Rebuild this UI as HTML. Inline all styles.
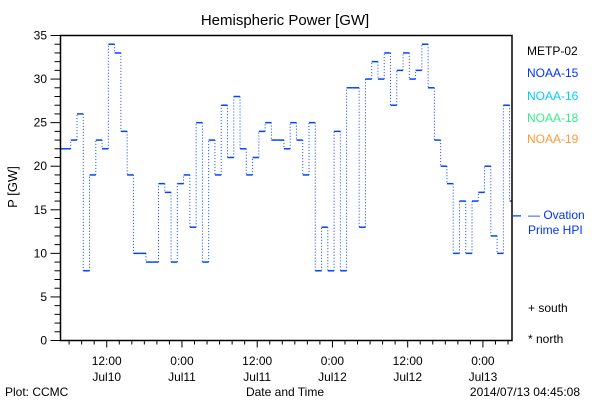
<!DOCTYPE html>
<html><head><meta charset="utf-8"><style>
body{margin:0;background:#fff}
svg{display:block;font-family:"Liberation Sans",sans-serif}
</style></head><body>
<svg id="c" width="600" height="400" viewBox="0 0 600 400">
<rect width="600" height="400" fill="#fff"/>
<text x="285" y="25" font-size="15" text-anchor="middle">Hemispheric Power [GW]</text>
<text x="17" y="187" font-size="13" text-anchor="middle" transform="rotate(-90 17 187)">P [GW]</text>
<text x="285" y="396" font-size="12" text-anchor="middle">Date and Time</text>
<text x="5" y="396" font-size="12">Plot: CCMC</text>
<text x="580" y="396" font-size="12" text-anchor="end">2014/07/13 04:45:08</text>
<g font-size="12">
<text x="527" y="55" fill="#000">METP-02</text>
<text x="527" y="77" fill="#0033ff">NOAA-15</text>
<text x="527" y="100" fill="#00ccff">NOAA-16</text>
<text x="527" y="122" fill="#33ee88">NOAA-18</text>
<text x="527" y="143" fill="#ff9933">NOAA-19</text>
<text x="528" y="219" fill="#0033ff">— Ovation</text>
<text x="528" y="234" fill="#0033ff">Prime HPI</text>
<text x="528" y="312" fill="#000">+ south</text>
<text x="528" y="343" fill="#000">* north</text>
</g>
<g id="axes"></g>
<g id="marks"></g>
<rect x="60.5" y="35.5" width="451.5" height="305" fill="none" stroke="#000" stroke-width="1.5"/>
</svg>
<script>
const values=[22,23,26,8,19,23,22,34,33,24,19,10,10,9,9,18,17,9,18,19,13,25,9,23,19,27,21,28,22,19,21,24,25,23,23,22,25,23,19,25,8,13,8,24,8,29,29,13,30,32,30,33,27,31,33,30,31,34,29,23,20,18,10,16,10,16,17,20,12,10,27,16];
const firstBoundaryHour=1.6;
const ovationValue=14.3;
const yTicks=[0,5,10,15,20,25,30,35];
const xTickHours=[7.34,19.34,31.34,43.34,55.34,67.34];
const xTickTop=["12:00","0:00","12:00","0:00","12:00","0:00"];
const xTickBottom=["Jul10","Jul11","Jul11","Jul12","Jul12","Jul13"];
const X0=60.7,X1=512,PXH=6.27,Y0=340.5,Y1=35.5,YMAX=35;
const ns="http://www.w3.org/2000/svg";
const xs=h=>Math.min(X1,X0+h*PXH);
const ys=v=>Y0-(v/YMAX)*(Y0-Y1);
function mk(t,a,p){const e=document.createElementNS(ns,t);for(const k in a)e.setAttribute(k,a[k]);p.appendChild(e);return e;}
const ax=document.getElementById('axes'),mg=document.getElementById('marks');
for(let v=0;v<=YMAX;v++){const maj=v%5===0;
 const l=mk('line',{x1:60.5-(maj?10:6),x2:60.5,y1:ys(v),y2:ys(v),stroke:'#000'},ax);
 
 }
yTicks.forEach(v=>{const t=mk('text',{x:47,y:ys(v)+4,'font-size':12,'text-anchor':'end'},ax);t.textContent=v;
 
 });
for(let h=xTickHours[0]-12;h<72;h+=2){if(h<0)continue;const maj=xTickHours.some(m=>Math.abs(m-h)<0.01);
 const l=mk('line',{x1:xs(h),x2:xs(h),y1:340.5,y2:340.5+(maj?7:4),stroke:'#000'},ax);
 
 }
xTickHours.forEach((h,i)=>{
 const a=mk('text',{x:xs(h),y:365,'font-size':12,'text-anchor':'middle'},ax);a.textContent=xTickTop[i];
 
 
 const b=mk('text',{x:xs(h),y:381,'font-size':12,'text-anchor':'middle'},ax);b.textContent=xTickBottom[i];
 
 });
values.forEach((v,i)=>{
 const s=i===0?0:firstBoundaryHour+i-1, e=firstBoundaryHour+i;
 const l=mk('line',{x1:xs(s),x2:xs(e),y1:ys(v),y2:ys(v),stroke:'#0044ff','stroke-width':1.5},mg);
 
 
 if(i>0){const d=mk('line',{x1:xs(s),x2:xs(s),y1:ys(values[i-1]),y2:ys(v),stroke:'#0044ff','stroke-width':1,'stroke-dasharray':'1 2'},mg);
 
 }
});
const o=mk('line',{x1:513,x2:521,y1:ys(ovationValue),y2:ys(ovationValue),stroke:'#0044ff','stroke-width':1.3},mg);


</script>
</body></html>
